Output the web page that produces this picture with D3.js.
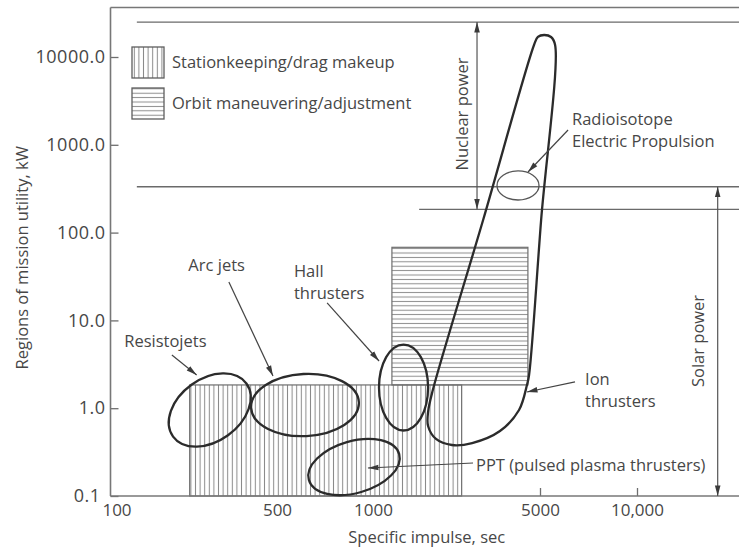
<!DOCTYPE html>
<html>
<head>
<meta charset="utf-8">
<script src="https://cdn.jsdelivr.net/npm/d3@7/dist/d3.min.js"></script>
<style>
  body { margin: 0; background: #fff; }
  svg { display: block; }
  text { font-family: "Open Sans", sans-serif; fill: #474747; }
</style>
</head>
<body>
<svg id="chart" width="739" height="552"></svg>
<script>
// ---- Axis ticks ----
const ispTicks = [100, 500, 1000, 5000, 10000];      // specific impulse, sec
const ispTickMarks = [5000, 10000];                  // ticks drawn with a mark
const powerTicks = [0.1, 1, 10, 100, 1000, 10000];   // kW

// ---- Mission utility regions: [ispMin, ispMax, kWMin, kWMax] ----
const stationkeeping = [215, 2350, 0.1, 1.84];
const orbitManeuvering = [1200, 4450, 1.84, 68];

// ---- Power source limits ----
const powerLimitKW = [25000, 333, 184];          // horizontal limit lines
const powerLimitStartIsp = [129, 129, 1560];     // where each line begins
const nuclearPowerRange = [184, 25000];          // kW
const nuclearPowerIsp = 2725;
const solarPowerRange = [0.1, 333];              // kW
const solarPowerIsp = 17800;

// ---- Thruster operating regions (ellipses): centre, end of major axis, end of minor axis ----
const thrusterNames = ["Resistojets", "Arc jets", "Hall thrusters", "PPT", "Radioisotope"];
const thrusterCentre = [[261, 0.953], [612, 1.087], [1342, 1.72], [872, 0.2138], [4045, 344]];
const thrusterMajorEnd = [[372, 1.911], [903, 1.17], [1342, 5.31], [1287, 0.3002], [4952, 344]];
const thrusterMinorEnd = [[312, 0.4935], [619, 0.482], [1700, 1.72], [918, 0.111], [4045, 235]];

// ---- Ion thruster region outline: [isp, kW] ----
const ionOutline = [
  [4720, 13700], [4900, 16900], [5150, 17800], [5410, 16900], [5570, 13700],
  [5040, 139], [4500, 2.39], [4410, 1.84], [4085, 0.953], [3400, 0.55],
  [2600, 0.401], [2140, 0.381], [1835, 0.446], [1700, 0.627], [1700, 0.905],
  [1780, 1.61], [2890, 139]
];

// ---- Callouts: text, label anchor [isp, kW], leader from/to [isp, kW] ----
const calloutText = [
  ["Resistojets"],
  ["Arc jets"],
  ["Hall", "thrusters"],
  ["Radioisotope", "Electric Propulsion"],
  ["Ion", "thrusters"],
  ["PPT (pulsed plasma thrusters)"]
];
const calloutAnchor = [[170, 5.83], [279, 42.7], [565, 36.5], [6285, 1967], [6900, 2.15], [2699, 0.2254]];
const leaderFrom = [[181, 4.03], [314, 27.4], [718, 15.8], [6110, 1474], [6421, 1.99], [2622, 0.2375]];
const leaderTo = [[230, 2.39], [481, 2.33], [1060, 3.45], [4455, 490], [4411, 1.53], [964, 0.2083]];

// ---------------------------------------------------------------
const W = 739, H = 552;
const frameTop = 7.5;
const svg = d3.select("#chart");

const x = d3.scaleLog().domain(ispTicks).range([110.5, 277, 373, 540, 637]);
const y = d3.scaleLog().domain([0.1, 10000]).range([496, 57]);
const left = x(100), bottom = y(0.1);

const defs = svg.append("defs");
const vh = defs.append("pattern").attr("id", "vhatch")
  .attr("patternUnits", "userSpaceOnUse").attr("width", 4.6).attr("height", 10);
vh.append("line").attr("x1", 2.3).attr("x2", 2.3).attr("y1", 0).attr("y2", 10)
  .attr("stroke", "#8a8a8a").attr("stroke-width", 1);
const hh = defs.append("pattern").attr("id", "hhatch")
  .attr("patternUnits", "userSpaceOnUse").attr("width", 10).attr("height", 4.4);
hh.append("line").attr("x1", 0).attr("x2", 10).attr("y1", 2.2).attr("y2", 2.2)
  .attr("stroke", "#8a8a8a").attr("stroke-width", 1);

function arrowMarker(id, color) {
  defs.append("marker").attr("id", id)
    .attr("viewBox", "0 -4 12 8").attr("refX", 12).attr("refY", 0)
    .attr("markerUnits", "userSpaceOnUse").attr("markerWidth", 11).attr("markerHeight", 7)
    .attr("orient", "auto-start-reverse")
    .append("path").attr("d", "M0,-3.2L12,0L0,3.2Z").attr("fill", color);
}
arrowMarker("arrow", "#3a3a3a");
arrowMarker("arrowPow", "#3a3a3a");

// ---- Hatched mission-utility boxes ----
function box(r, fill) {
  svg.append("rect")
    .attr("x", x(r[0])).attr("y", y(r[3]))
    .attr("width", x(r[1]) - x(r[0])).attr("height", y(r[2]) - y(r[3]))
    .attr("fill", fill).attr("stroke", "#6e6e6e").attr("stroke-width", 1.2);
}
box(stationkeeping, "url(#vhatch)");
box(orbitManeuvering, "url(#hhatch)");

// ---- Axes ----
const gy = svg.append("g").attr("transform", `translate(${left},0)`)
  .call(d3.axisLeft(y).tickValues(powerTicks).tickFormat(d3.format(".1f"))
    .tickSizeInner(-8).tickSizeOuter(0).tickPadding(6));
gy.select(".domain").remove();
gy.selectAll(".tick line").attr("stroke", "#6e6e6e").attr("stroke-width", 1.3);
gy.selectAll(".tick text")
  .style("font-size", "18px").style("letter-spacing", "0.5px")
  .style("font-family", "'Open Sans', sans-serif").attr("fill", "#4a4a4a")
  .attr("x", d => d === 0.1 ? -10 : -5);

const gx = svg.append("g").attr("transform", `translate(0,${bottom})`)
  .call(d3.axisBottom(x).tickValues(ispTicks)
    .tickFormat(v => v >= 10000 ? d3.format(",")(v) : String(v))
    .tickSizeInner(-8).tickSizeOuter(0).tickPadding(8));
gx.select(".domain").remove();
gx.selectAll(".tick line").attr("stroke", "#6e6e6e").attr("stroke-width", 1.3)
  .attr("display", d => ispTickMarks.includes(d) ? null : "none");
gx.selectAll(".tick text")
  .style("font-size", "17px").style("font-family", "'Open Sans', sans-serif").attr("fill", "#4a4a4a")
  .attr("dx", d => d === 100 ? 6 : 0);

// Frame lines: left axis, bottom axis, top border
const frame = svg.append("g").attr("stroke", "#777").attr("stroke-width", 1.6).attr("fill", "none");
frame.append("line").attr("x1", left).attr("x2", left).attr("y1", frameTop).attr("y2", bottom);
frame.append("line").attr("x1", left).attr("x2", W).attr("y1", bottom).attr("y2", bottom);
frame.append("line").attr("x1", left).attr("x2", W).attr("y1", frameTop).attr("y2", frameTop);

// Axis titles
svg.append("text").attr("x", (left + W) / 2 + 2).attr("y", 543)
  .attr("text-anchor", "middle").style("font-size", "16.5px")
  .text("Specific impulse, sec");
svg.append("text").attr("transform", `translate(28,${(frameTop + bottom) / 2 + 6}) rotate(-90)`)
  .attr("text-anchor", "middle").style("font-size", "16.5px")
  .text("Regions of mission utility, kW");

// ---- Power limit lines ----
svg.append("g").selectAll("line").data(powerLimitKW).join("line")
  .attr("x1", (d, i) => x(powerLimitStartIsp[i])).attr("x2", W)
  .attr("y1", d => y(d)).attr("y2", d => y(d))
  .attr("stroke", "#6a6a6a").attr("stroke-width", 1.3);

function powerArrow(isp, range, label, labelIsp, labelKW) {
  svg.append("line")
    .attr("x1", x(isp)).attr("x2", x(isp))
    .attr("y1", y(range[0])).attr("y2", y(range[1]))
    .attr("stroke", "#555").attr("stroke-width", 1.2)
    .attr("marker-start", "url(#arrowPow)").attr("marker-end", "url(#arrowPow)");
  svg.append("text")
    .attr("transform", `translate(${x(labelIsp)},${y(labelKW)}) rotate(-90)`)
    .attr("text-anchor", "middle").attr("dy", "0.35em").style("font-size", "16.5px")
    .text(label);
}
powerArrow(nuclearPowerIsp, nuclearPowerRange, "Nuclear power", 2358, 2243);
powerArrow(solarPowerIsp, solarPowerRange, "Solar power", 15500, 5.83);

// ---- Ion thruster region ----
svg.append("path")
  .datum(ionOutline)
  .attr("d", d3.line().x(d => x(d[0])).y(d => y(d[1])).curve(d3.curveCatmullRomClosed.alpha(0.5)))
  .attr("fill", "none").attr("stroke", "#2b2b2b").attr("stroke-width", 2.3);

// ---- Elliptical thruster regions ----
thrusterNames.forEach((name, i) => {
  const cx = x(thrusterCentre[i][0]), cy = y(thrusterCentre[i][1]);
  const mx = x(thrusterMajorEnd[i][0]), my = y(thrusterMajorEnd[i][1]);
  const nx = x(thrusterMinorEnd[i][0]), ny = y(thrusterMinorEnd[i][1]);
  const rx = Math.hypot(mx - cx, my - cy), ry = Math.hypot(nx - cx, ny - cy);
  const ang = Math.atan2(my - cy, mx - cx) * 180 / Math.PI;
  const small = name === "Radioisotope";
  svg.append("ellipse")
    .attr("cx", cx).attr("cy", cy).attr("rx", rx).attr("ry", ry)
    .attr("transform", `rotate(${ang},${cx},${cy})`)
    .attr("fill", "none")
    .attr("stroke", small ? "#555" : "#2b2b2b")
    .attr("stroke-width", small ? 1.3 : 2.3);
});

// ---- Callouts ----
const alignStart = [false, false, true, true, true, true];
calloutText.forEach((lines, i) => {
  svg.append("line")
    .attr("x1", x(leaderFrom[i][0])).attr("y1", y(leaderFrom[i][1]))
    .attr("x2", x(leaderTo[i][0])).attr("y2", y(leaderTo[i][1]))
    .attr("stroke", "#444").attr("stroke-width", 1.2)
    .attr("marker-end", "url(#arrow)");
  const t = svg.append("text")
    .attr("x", x(calloutAnchor[i][0])).attr("y", y(calloutAnchor[i][1]))
    .attr("text-anchor", alignStart[i] ? "start" : "middle")
    .style("font-size", "16.5px");
  lines.forEach((ln, j) => {
    t.append("tspan").attr("x", x(calloutAnchor[i][0]))
      .attr("dy", j === 0 ? "0.35em" : "22px").text(ln);
  });
});

// ---- Legend ----
const legendItems = [["Stationkeeping/drag makeup", "url(#vhatch)"], ["Orbit maneuvering/adjustment", "url(#hhatch)"]];
const lg = svg.append("g").attr("transform", "translate(132,47)");
legendItems.forEach((d, i) => {
  lg.append("rect").attr("x", 0).attr("y", i * 41).attr("width", 32).attr("height", 31)
    .attr("fill", d[1]).attr("stroke", "#5e5e5e").attr("stroke-width", 1.3);
  lg.append("text").attr("x", 40).attr("y", i * 41 + 15.5).attr("dy", "0.35em")
    .style("font-size", "16.5px").text(d[0]);
});
</script>
</body>
</html>
